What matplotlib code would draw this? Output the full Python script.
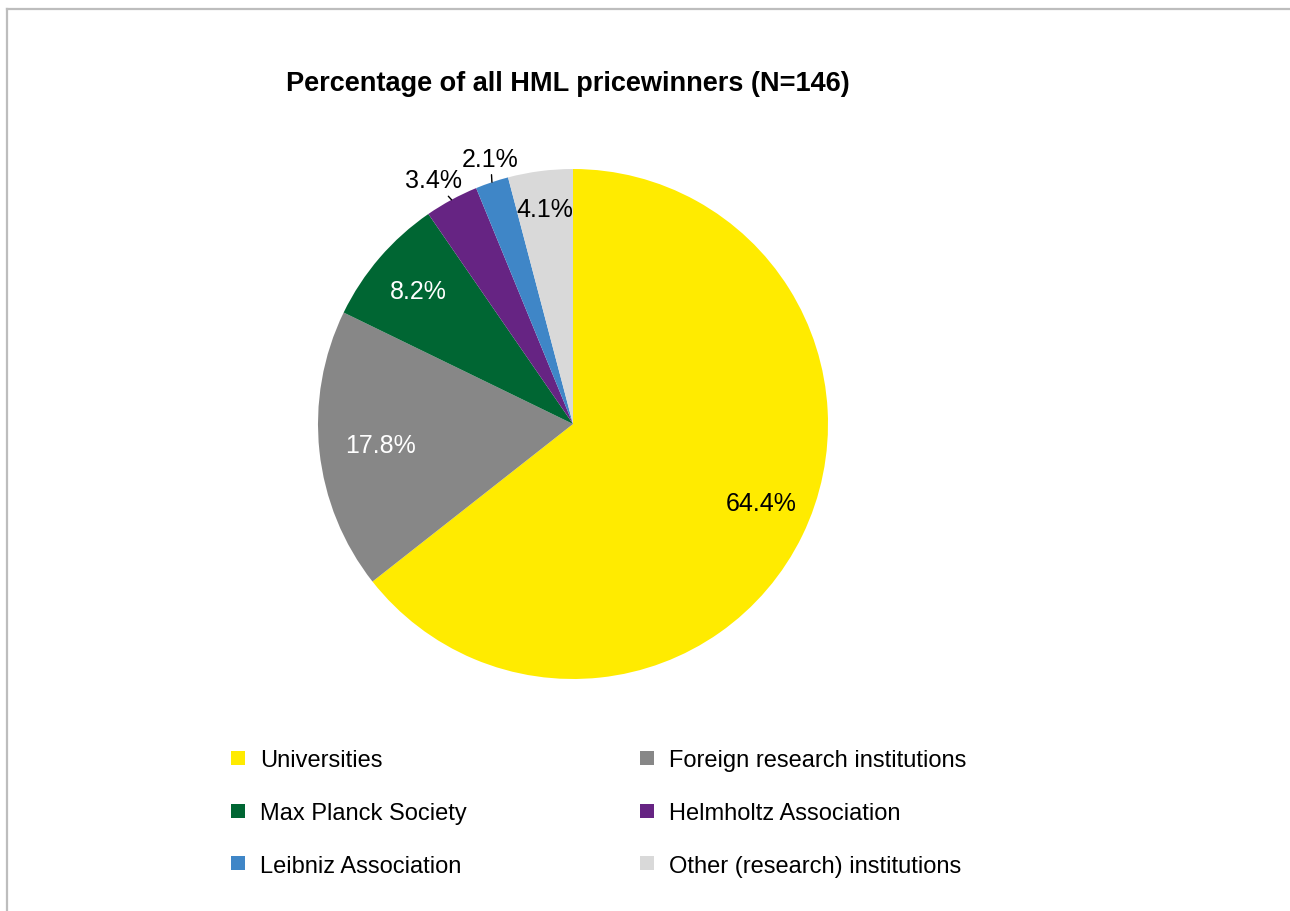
import numpy as np
import matplotlib
matplotlib.use("Agg")
import matplotlib.pyplot as plt
from matplotlib.lines import Line2D

plt.rcParams['font.family'] = ['Liberation Sans', 'DejaVu Sans']

# data
categories = ["Universities", "Foreign research institutions", "Max Planck Society",
              "Helmholtz Association", "Leibniz Association", "Other (research) institutions"]
shares = [64.4, 17.8, 8.2, 3.4, 2.1, 4.1]
colors = ["#ffeb00", "#878787", "#006633", "#662483", "#3f86c7", "#d9d9d9"]
label_colors = ["black", "white", "white", "black", "black", "black"]
# label placement (radius, angle nudge in degrees)
label_radius = [0.80, 0.76, 0.80, 1.10, 1.09, 0.85]
label_nudge = [3, 0, 0, 1.3, -1.3, 0]

fig = plt.figure(figsize=(12.9, 9.12), dpi=100)

# frame line left and top
fig.add_artist(Line2D([7 / 1290, 7 / 1290], [0, 1 - 10 / 912], color="#bdbdbd", lw=1.6))
fig.add_artist(Line2D([7 / 1290, 1], [1 - 10 / 912, 1 - 10 / 912], color="#bdbdbd", lw=1.6))

ax = fig.add_axes([318 / 1290, (912 - 680) / 912, 510 / 1290, 510 / 912])
wedges, _ = ax.pie(shares, colors=colors, startangle=90, counterclock=False,
                   radius=1, wedgeprops=dict(linewidth=0))
ax.set_xlim(-1, 1)
ax.set_ylim(-1, 1)
ax.set_aspect("equal")
ax.axis("off")

for w, val, col, r, nd in zip(wedges, shares, label_colors, label_radius, label_nudge):
    mid = (w.theta1 + w.theta2) / 2
    ang = np.deg2rad(mid + nd)
    x, y = r * np.cos(ang), r * np.sin(ang)
    txt = f"{val:.1f}%"
    if r > 1:
        edge = np.deg2rad(mid)
        ax.annotate(txt, xy=(np.cos(edge), np.sin(edge)), xytext=(x, y),
                    ha="center", va="center", fontsize=18, color=col,
                    arrowprops=dict(arrowstyle="-", color="black", lw=1.0,
                                    shrinkA=1, shrinkB=0))
    else:
        ax.text(x, y, txt, ha="center", va="center", fontsize=18, color=col)

fig.text(568 / 1290, 1 - 84 / 912, "Percentage of all HML pricewinners (N=146)",
         ha="center", va="center", fontsize=19.5, fontweight="bold")

# legend, row-wise order
order = [0, 2, 4, 1, 3, 5]
handles = [Line2D([], [], marker="s", linestyle="none", markersize=10,
                  markerfacecolor=colors[i], markeredgewidth=0) for i in order]
labels = [categories[i] for i in order]
fig.legend(handles, labels, ncol=2, loc="center left",
           bbox_to_anchor=(205 / 1290, 1 - 814 / 912), frameon=False,
           fontsize=17, handletextpad=0.45, labelspacing=1.3, columnspacing=7.1,
           handlelength=1.0)

fig.savefig("out.png", dpi=100, facecolor="white")
